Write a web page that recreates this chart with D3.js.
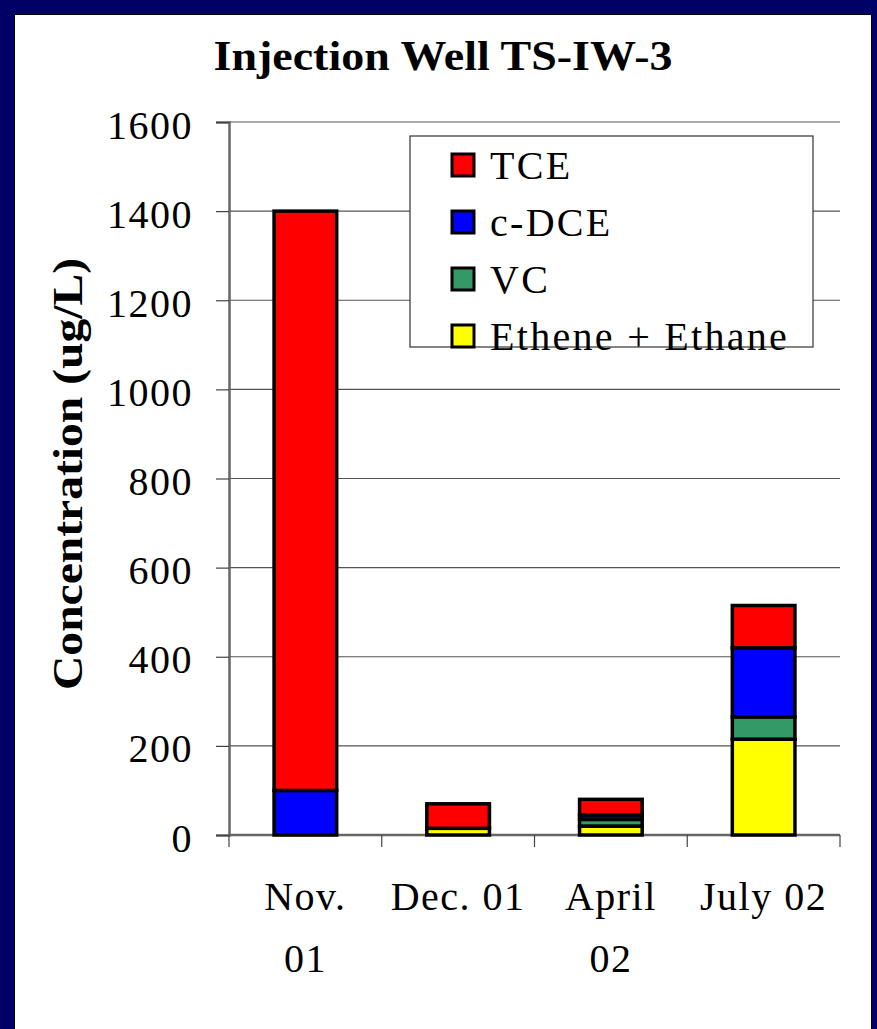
<!DOCTYPE html>
<html>
<head>
<meta charset="utf-8">
<script src="https://cdn.jsdelivr.net/npm/d3@7"></script>
<style>
  html, body { margin: 0; padding: 0; background: #000066; }
  svg { display: block; }
  text { font-family: "Liberation Serif", "Times New Roman", serif; fill: #000; }
</style>
</head>
<body>
<svg id="chart" width="877" height="1029"></svg>
<script>
// Sampling dates (two-line labels split on "\n")
const categories = ["Nov.\n01", "Dec. 01", "April\n02", "July 02"];
// Stacked series, bottom to top (ug/L)
const seriesNames = ["Ethene + Ethane", "VC", "c-DCE", "TCE"];
const ethene = [0, 15, 20, 215];
const vc     = [0, 0, 15, 50];
const cdce   = [100, 0, 10, 155];
const tce    = [1300, 55, 35, 95];
const yTicks = [0, 200, 400, 600, 800, 1000, 1200, 1400, 1600];
const legendOrder = ["TCE", "c-DCE", "VC", "Ethene + Ethane"];
const colors = { "TCE": "#ff0000", "c-DCE": "#0000ff", "VC": "#339966", "Ethene + Ethane": "#ffff00" };

const rows = categories.map((c, i) => ({
  cat: c, "Ethene + Ethane": ethene[i], "VC": vc[i], "c-DCE": cdce[i], "TCE": tce[i]
}));

const svg = d3.select("#chart");
const W = 877, H = 1029;

// page frame: navy surround with white panel
svg.append("rect").attr("x", 0).attr("y", 0).attr("width", W).attr("height", H).attr("fill", "#000066");
svg.append("rect").attr("x", 14).attr("y", 14).attr("width", 858).attr("height", H - 14).attr("fill", "#000");
svg.append("rect").attr("x", 15).attr("y", 15).attr("width", 856).attr("height", H - 15).attr("fill", "#fff");

const m = { left: 229, top: 122, right: 840, bottom: 835 };
const x = d3.scaleBand().domain(categories).range([m.left, m.right]).paddingInner(0.59).paddingOuter(0.295);
const y = d3.scaleLinear().domain([0, 1600]).range([m.bottom, m.top]);

// gridlines
svg.append("g").selectAll("line").data(yTicks.filter(t => t > 0)).join("line")
  .attr("x1", m.left).attr("x2", m.right)
  .attr("y1", d => y(d)).attr("y2", d => y(d))
  .attr("stroke", "#555").attr("stroke-width", 1.2);

// y axis
const yAxis = svg.append("g").attr("transform", `translate(${m.left},0)`)
  .call(d3.axisLeft(y).tickValues(yTicks).tickFormat(d3.format("d")).tickSize(13).tickPadding(23));
yAxis.select(".domain").attr("stroke", "#666").attr("stroke-width", 2.5);
yAxis.selectAll(".tick line").attr("stroke", "#444").attr("stroke-width", 1.2);
yAxis.selectAll(".tick text").attr("font-size", 40).attr("font-family", "Liberation Serif")
  .attr("letter-spacing", 1.5).attr("dy", "0.4em");

// x axis: ticks at band boundaries
const bounds = d3.range(categories.length + 1).map(i => m.left + i * (m.right - m.left) / categories.length);
svg.append("line").attr("x1", m.left).attr("x2", m.right).attr("y1", m.bottom).attr("y2", m.bottom)
  .attr("stroke", "#666").attr("stroke-width", 2.5);
svg.append("g").selectAll("line").data(bounds).join("line")
  .attr("x1", d => d).attr("x2", d => d).attr("y1", m.bottom).attr("y2", m.bottom + 12)
  .attr("stroke", "#444").attr("stroke-width", 1.2);

// category labels
const xl = svg.append("g").selectAll("text").data(categories).join("text")
  .attr("x", d => x(d) + x.bandwidth() / 2)
  .attr("y", 910)
  .attr("text-anchor", "middle")
  .attr("letter-spacing", 1.5)
  .attr("font-size", 40);
xl.each(function(d) {
  const t = d3.select(this);
  d.split("\n").forEach((line, i) => {
    t.append("tspan").attr("x", x(d) + x.bandwidth() / 2).attr("dy", i === 0 ? 0 : 62).text(line);
  });
});

// stacked bars
const stack = d3.stack().keys(seriesNames)(rows);
svg.append("g").selectAll("g").data(stack).join("g")
  .attr("fill", d => colors[d.key])
  .selectAll("rect").data(d => d.filter(s => s[1] - s[0] > 0)).join("rect")
  .attr("x", d => x(d.data.cat))
  .attr("width", x.bandwidth())
  .attr("y", d => y(d[1]))
  .attr("height", d => y(d[0]) - y(d[1]))
  .attr("stroke", "#000").attr("stroke-width", 3.5);

// title
svg.append("text").attr("x", 443).attr("y", 70).attr("text-anchor", "middle")
  .attr("font-size", 42).attr("font-weight", "bold")
  .attr("textLength", 459).attr("lengthAdjust", "spacingAndGlyphs")
  .text("Injection Well TS-IW-3");

// y axis title
svg.append("text").attr("transform", "translate(82,474) rotate(-90)").attr("text-anchor", "middle")
  .attr("font-size", 42).attr("font-weight", "bold")
  .attr("textLength", 432).attr("lengthAdjust", "spacingAndGlyphs")
  .text("Concentration (ug/L)");

// legend
const lg = svg.append("g");
lg.append("rect").attr("x", 410).attr("y", 136).attr("width", 403).attr("height", 211)
  .attr("fill", "#fff").attr("stroke", "#333").attr("stroke-width", 1.2);
const li = lg.selectAll("g.item").data(legendOrder).join("g").attr("class", "item")
  .attr("transform", (d, i) => `translate(452,${165 + i * 57})`);
li.append("rect").attr("x", 0).attr("y", -11).attr("width", 22).attr("height", 22)
  .attr("fill", d => colors[d]).attr("stroke", "#000").attr("stroke-width", 3);
li.append("text").attr("x", 38).attr("y", 0).attr("dy", "0.35em").attr("font-size", 40)
  .attr("letter-spacing", 2.3).text(d => d);
</script>
</body>
</html>
